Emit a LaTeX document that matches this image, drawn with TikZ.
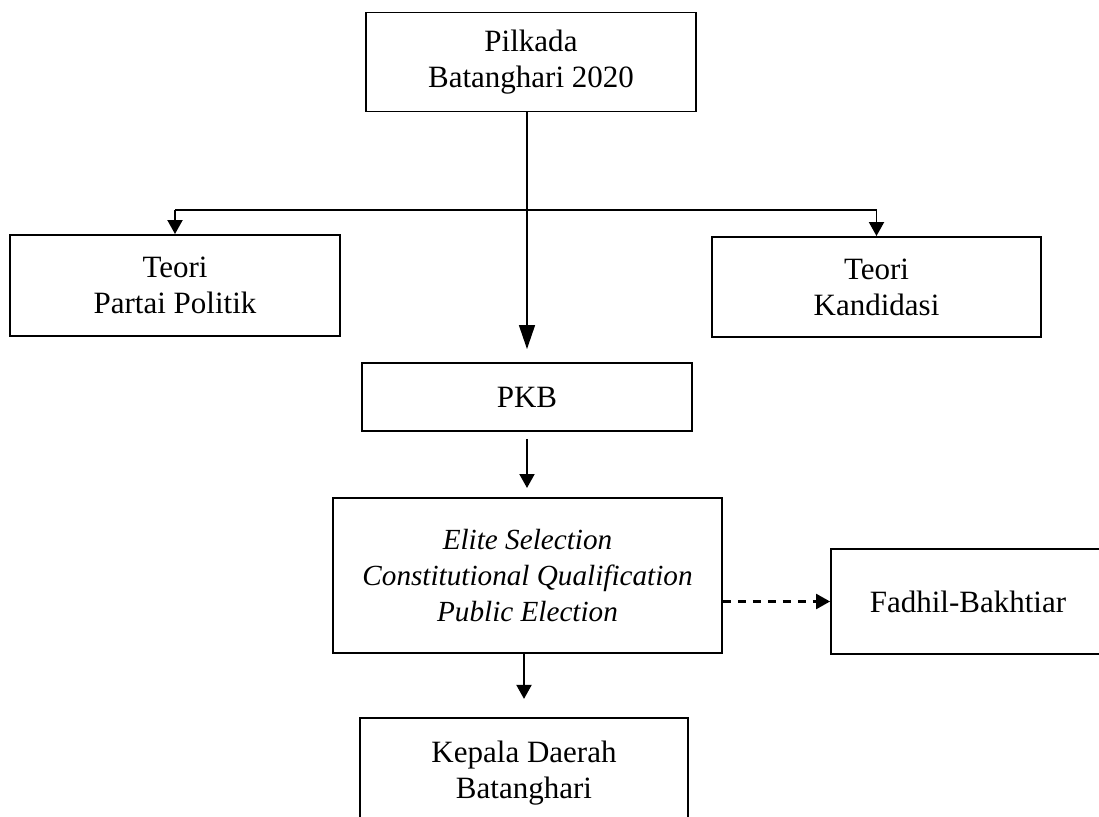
\documentclass[tikz,border=0pt]{standalone}
\usepackage{fontspec}
\setmainfont{Liberation Serif}
\usetikzlibrary{arrows.meta}
\tikzset{
  box/.style={draw, line width=0.75pt, align=center, inner sep=0pt,
    font=\fontsize{12}{14}\selectfont},
  arr/.style={line width=0.75pt, -{Triangle[width=5.8pt,length=5.4pt]}},
  bigarr/.style={line width=0.85pt, -{Triangle[width=6.1pt,length=9.3pt]}},
}
\begin{document}
\begin{tikzpicture}[x=0.387pt,y=-0.387pt]
% Page area
\clip (0,0) rectangle (1099,817);
% Draw boxes
\node[box, minimum width=127.7pt, minimum height=38.3pt] (pilkada) at (531,62) {Pilkada\\Batanghari 2020};
\node[box, minimum width=127.7pt, minimum height=39.1pt] (partai) at (175,285.5) {Teori\\Partai Politik};
\node[box, minimum width=127.3pt, minimum height=38.7pt] (kandidasi) at (876.5,287) {Teori\\Kandidasi};
\node[box, minimum width=127.7pt, minimum height=26.3pt] (pkb) at (527,397) {PKB};
\node[box, minimum width=150.5pt, minimum height=60pt, font=\fontsize{11.3}{14}\selectfont\itshape] (seleksi) at (527.5,575.5) {Elite Selection\\Constitutional Qualification\\Public Election};
\node[box, minimum width=106pt, minimum height=40.6pt] (fadhil) at (968,601.5) {Fadhil-Bakhtiar};
\node[box, minimum width=126.9pt, minimum height=42.6pt] (kepala) at (524,773) {Kepala Daerah\\Batanghari};
% Branch to the two theories
\coordinate (branch) at (0,210);
\draw[line width=0.75pt] (partai.north |- branch) -- (kandidasi.north |- branch);
\draw[arr] (partai.north |- branch) -- (partai.north);
\draw[arr] (kandidasi.north |- branch) -- (kandidasi.north);
% Main flow
\draw[bigarr, shorten >=5pt] (pkb.north |- pilkada.south) -- (pkb.north);
\draw[arr, shorten <=2.7pt, shorten >=3.5pt] (pkb.south) -- (pkb.south |- seleksi.north);
\draw[arr, shorten >=7pt] (kepala.north |- seleksi.south) -- (kepala.north);
\draw[arr, line width=0.9pt, dash pattern=on 3.1pt off 2.7pt] (seleksi.east |- fadhil.west) -- (fadhil.west);
\end{tikzpicture}
\end{document}
